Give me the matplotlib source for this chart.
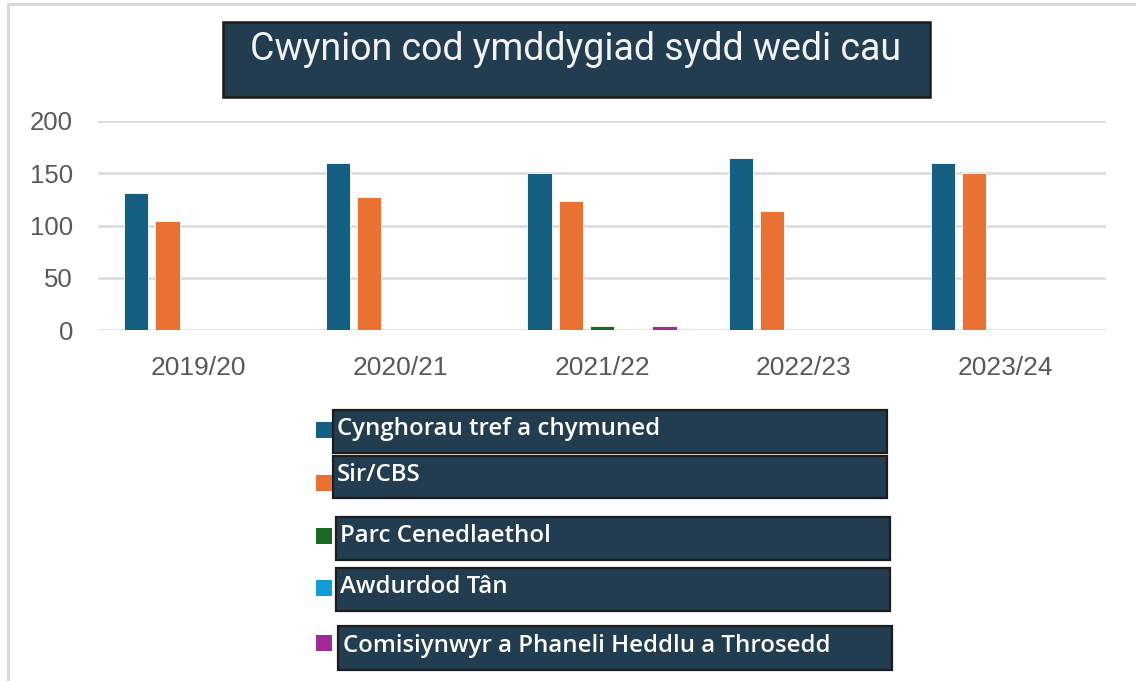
import matplotlib
matplotlib.use("Agg")
import matplotlib.pyplot as plt
import numpy as np
from matplotlib.patches import Rectangle
from matplotlib.lines import Line2D

# ---- data ----
years = ["2019/20", "2020/21", "2021/22", "2022/23", "2023/24"]
series_names = ["Cynghorau tref a chymuned", "Sir/CBS", "Parc Cenedlaethol",
                "Awdurdod Tân", "Comisiynwyr a Phaneli Heddlu a Throsedd"]
town_community = [131, 160, 150, 165, 160]
county = [104, 127, 123, 114, 150]
national_park = [0, 0, 4, 0, 0]
fire_authority = [0, 0, 0, 0, 0]
police_commissioners = [0, 0, 4, 0, 0]
y_ticks = [0, 50, 100, 150, 200]
title = "Cwynion cod ymddygiad sydd wedi cau"

colors = ["#156082", "#E97132", "#196B24", "#0F9ED5", "#A02B93"]
box_fill = "#223D50"
box_edge = "#1c1c1c"

W, H = 1136, 681
fig = plt.figure(figsize=(W / 100, H / 100), dpi=100)

def fx(x):
    return x / W

def fy(y):
    return 1 - y / H

# outer light frame
fig.add_artist(Line2D([fx(8), fx(8)], [fy(4), 0], transform=fig.transFigure, color="#d9d9d9", lw=2.2))
fig.add_artist(Line2D([fx(8), 1], [fy(4), fy(4)], transform=fig.transFigure, color="#d9d9d9", lw=2.2))

ax = fig.add_axes([fx(98), fy(330), fx(1106) - fx(98), fy(121) - fy(330)])
all_series = [town_community, county, national_park, fire_authority, police_commissioners]
x = np.arange(len(years))
slot = 0.155
bw = 0.12
for i, (vals, c) in enumerate(zip(all_series, colors)):
    ax.bar(x + (i - 2) * slot, vals, width=bw, color=c, edgecolor="white", linewidth=0.6, zorder=3)

ax.set_xlim(-0.5, 4.5)
ax.set_ylim(0, 200)
ax.set_yticks(y_ticks)
ax.set_yticklabels([str(t) for t in y_ticks], fontsize=18.5, color="#595959", family="Liberation Sans")
ax.set_xticks(x)
ax.set_xticklabels(years, fontsize=19, color="#595959", family="Liberation Sans")
ax.tick_params(axis="both", length=0)
ax.tick_params(axis="y", pad=18)
ax.tick_params(axis="x", pad=19)
ax.grid(axis="y", color="#d9d9d9", lw=1.8, zorder=0)
for s in ax.spines.values():
    s.set_visible(False)
ax.set_facecolor("none")

# title box
fig.add_artist(Rectangle((fx(223), fy(97)), fx(930) - fx(223), fy(22) - fy(97),
                         transform=fig.transFigure, facecolor=box_fill, edgecolor=box_edge, lw=1.8))
fig.text(fx(576), fy(50), title, ha="center", va="center", color="#f2f2f2",
         fontsize=27, family="Roboto", fontweight="normal")

# legend
boxes = [(333, 887, 410, 453), (333, 887, 456, 498), (336, 890, 517, 560),
         (336, 890, 568, 611), (338, 892, 626, 670)]
sq_y = [430, 483, 536, 588, 643]
txt_x = [337, 337, 340, 340, 343]
txt_y = [429, 475, 536, 587, 646]
for (x0, x1, y0, y1), sy, tx, ty, name, c in zip(boxes, sq_y, txt_x, txt_y, series_names, colors):
    fig.add_artist(Rectangle((fx(x0), fy(y1)), fx(x1) - fx(x0), fy(y0) - fy(y1),
                             transform=fig.transFigure, facecolor=box_fill, edgecolor=box_edge, lw=1.6))
    fig.add_artist(Rectangle((fx(316), fy(sy + 8)), fx(16), 16 / H,
                             transform=fig.transFigure, facecolor=c, edgecolor="none"))
    fig.text(fx(tx), fy(ty), name, ha="left", va="center", color="white",
             fontsize=17.3, family="Open Sans", fontweight="semibold")

fig.savefig("out.png", dpi=100)
